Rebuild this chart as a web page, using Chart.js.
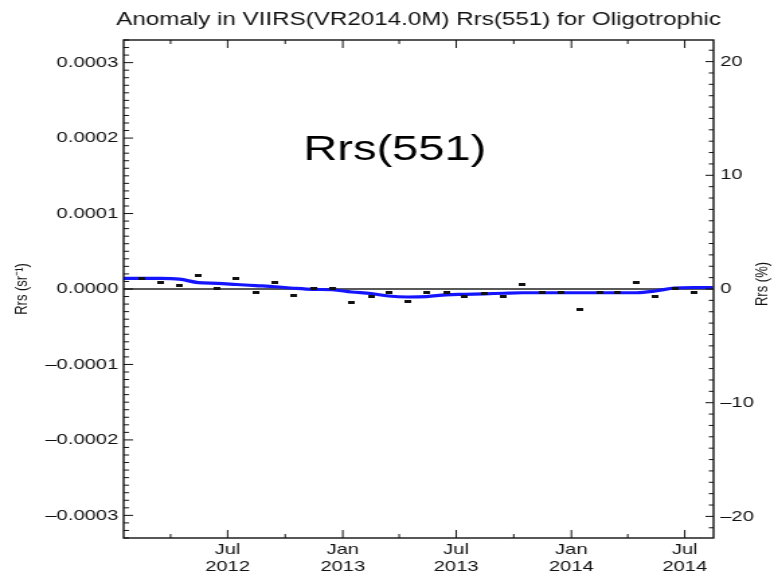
<!DOCTYPE html>
<html>
<head>
<meta charset="utf-8">
<script src="https://cdn.jsdelivr.net/npm/chart.js@4/dist/chart.umd.min.js"></script>
<style>
  html, body { margin: 0; padding: 0; background: #fff; overflow: hidden; }
</style>
</head>
<body>
<!-- the reference is a square plot stretched to 774 wide -->
<canvas id="chart" width="576" height="576" style="width:774px;height:576px;display:block"></canvas>
<script>
// monthly anomalies (sr^-1), black markers
const pointMonths = ['2012-02','2012-03','2012-04','2012-05','2012-06','2012-07','2012-08','2012-09','2012-10','2012-11','2012-12',
  '2013-01','2013-02','2013-03','2013-04','2013-05','2013-06','2013-07','2013-08','2013-09','2013-10','2013-11','2013-12',
  '2014-01','2014-02','2014-03','2014-04','2014-05','2014-06','2014-07'];
const pointValues = [1.33e-5, 0.8e-5, 0.53e-5, 1.73e-5, 0.13e-5, 1.33e-5, -0.4e-5, 0.8e-5, -0.8e-5, 0.13e-5, 0.13e-5,
  -1.73e-5, -1.06e-5, -0.53e-5, -1.6e-5, -0.53e-5, -0.4e-5, -0.93e-5, -0.66e-5, -0.93e-5, 0.66e-5, -0.4e-5, -0.4e-5,
  -2.66e-5, -0.4e-5, -0.4e-5, 0.8e-5, -1.06e-5, 0.13e-5, -0.53e-5];

// smoothed anomaly, blue line
const smoothMonths = ['2012-01','2012-02','2012-03','2012-04','2012-05','2012-06','2012-07','2012-08','2012-09','2012-10','2012-11','2012-12',
  '2013-01','2013-02','2013-03','2013-04','2013-05','2013-06','2013-07','2013-08','2013-09','2013-10','2013-11','2013-12',
  '2014-01','2014-02','2014-03','2014-04','2014-05','2014-06','2014-07','2014-08'];
const smoothValues = [1.4e-5, 1.4e-5, 1.4e-5, 1.3e-5, 0.85e-5, 0.75e-5, 0.6e-5, 0.45e-5, 0.3e-5, 0.1e-5, -0.05e-5, -0.1e-5,
  -0.4e-5, -0.6e-5, -0.93e-5, -1.06e-5, -1.0e-5, -0.77e-5, -0.7e-5, -0.64e-5, -0.56e-5, -0.5e-5, -0.5e-5, -0.5e-5,
  -0.5e-5, -0.5e-5, -0.5e-5, -0.5e-5, -0.27e-5, 0.13e-5, 0.2e-5, 0.2e-5];

const tickMonths = ['2012-04','2012-07','2012-10','2013-01','2013-04','2013-07','2013-10','2014-01','2014-04','2014-07'];
const monthNames = ['Jan','Feb','Mar','Apr','May','Jun','Jul','Aug','Sep','Oct','Nov','Dec'];

const xStart = '2012-01-17', xEnd = '2014-08-16';
const rrsMax = 0.00033, pctMax = 21.9;

const FONT = '"Liberation Sans", Arial, Helvetica, sans-serif';
const INK = '#111';

function midMonth(s) { const p = s.split('-'); return Date.UTC(+p[0], +p[1] - 1, 15); }
function monthStart(s) { const p = s.split('-'); return Date.UTC(+p[0], +p[1] - 1, 1); }
function day(s) { const p = s.split('-'); return Date.UTC(+p[0], +p[1] - 1, +p[2]); }

// little horizontal dash used as the marker
const dash = document.createElement('canvas');
dash.width = 5; dash.height = 3;
const dctx = dash.getContext('2d');
dctx.fillStyle = '#111';
dctx.fillRect(0, 0, 5, 3);

const frame = {
  id: 'frame',
  beforeDatasetsDraw(chart) {
    const {ctx, chartArea: a, scales} = chart;
    const y0 = scales.y.getPixelForValue(0);
    ctx.save();
    ctx.strokeStyle = '#222';
    ctx.lineWidth = 1.6;
    ctx.beginPath(); ctx.moveTo(a.left, y0); ctx.lineTo(a.right, y0); ctx.stroke();
    ctx.restore();
  },
  afterDatasetsDraw(chart) {
    const {ctx, chartArea: a, scales} = chart;
    ctx.save();
    ctx.strokeStyle = INK;
    ctx.lineWidth = 1.4;
    ctx.strokeRect(a.left, a.top, a.right - a.left, a.bottom - a.top);

    ctx.lineWidth = 1;
    ctx.beginPath();
    // left axis, minor every 1e-5
    for (let k = -33; k <= 33; k++) {
      const py = scales.y.getPixelForValue(k * 1e-5);
      const len = k % 10 === 0 ? 7 : 4;
      ctx.moveTo(a.left, py); ctx.lineTo(a.left + len, py);
    }
    // right axis, minor every 1 %
    for (let k = -21; k <= 21; k++) {
      const py = scales.y1.getPixelForValue(k);
      const len = k % 10 === 0 ? 6 : 3.5;
      ctx.moveTo(a.right, py); ctx.lineTo(a.right - len, py);
    }
    // bottom and top
    scales.x.ticks.forEach(t => {
      const px = scales.x.getPixelForValue(t.value);
      const m = new Date(t.value).getUTCMonth();
      const len = (m === 0 || m === 6) ? 8 : 4;
      ctx.moveTo(px, a.bottom); ctx.lineTo(px, a.bottom - len);
      ctx.moveTo(px, a.top); ctx.lineTo(px, a.top + len);
    });
    ctx.stroke();

    ctx.fillStyle = INK;
    ctx.textAlign = 'center';
    ctx.textBaseline = 'alphabetic';
    ctx.font = '18px ' + FONT;
    ctx.fillText('Anomaly in VIIRS(VR2014.0M) Rrs(551) for Oligotrophic', (a.left + a.right) / 2, 25);

    ctx.fillStyle = '#000';
    ctx.font = '35px ' + FONT;
    ctx.fillText('Rrs(551)', scales.x.getPixelForValue(day('2013-03-25')), scales.y.getPixelForValue(0.000171));

    ctx.fillStyle = INK;
    ctx.font = '13px ' + FONT;
    ctx.textBaseline = 'middle';
    ctx.save();
    ctx.translate(16, scales.y.getPixelForValue(0));
    ctx.rotate(-Math.PI / 2);
    ctx.fillText('Rrs (sr\u207B\u00B9)', 0, 0);
    ctx.restore();
    ctx.save();
    ctx.translate(567, scales.y.getPixelForValue(0) - 5);
    ctx.rotate(-Math.PI / 2);
    ctx.fillText('Rrs (%)', 0, 0);
    ctx.restore();
    ctx.restore();
  }
};

const minus = s => s.replace('-', '\u2013');

new Chart(document.getElementById('chart'), {
  type: 'scatter',
  data: {
    datasets: [{
      type: 'scatter',
      label: 'monthly',
      data: pointMonths.map((m, i) => ({x: midMonth(m), y: pointValues[i]})),
      pointStyle: dash,
      pointRadius: 3,
      order: 0
    }, {
      type: 'line',
      label: 'smoothed',
      data: smoothMonths.map((m, i) => ({x: midMonth(m), y: smoothValues[i]})),
      borderColor: '#1414ff',
      borderWidth: 3.2,
      pointRadius: 0,
      tension: 0.4,
      cubicInterpolationMode: 'monotone',
      clip: 0,
      order: 1
    }]
  },
  options: {
    responsive: false,
    animation: false,
    events: [],
    layout: { padding: { top: 40, left: 0, right: 0, bottom: 0 } },
    plugins: { legend: { display: false }, tooltip: { enabled: false }, title: { display: false } },
    scales: {
      x: {
        type: 'linear',
        min: day(xStart),
        max: day(xEnd),
        afterBuildTicks: s => { s.ticks = tickMonths.map(m => ({value: monthStart(m)})); },
        afterFit: s => { s.height = 38; },
        grid: { display: false, drawTicks: false },
        border: { display: false },
        ticks: {
          autoSkip: false, maxRotation: 0, padding: 3, color: INK,
          font: { family: FONT, size: 15, lineHeight: 1.15 },
          callback: v => {
            const d = new Date(v), m = d.getUTCMonth();
            return (m === 0 || m === 6) ? [monthNames[m], String(d.getUTCFullYear())] : '';
          }
        }
      },
      y: {
        position: 'left',
        min: -rrsMax, max: rrsMax,
        afterFit: s => { s.width = 92; },
        grid: { display: false, drawTicks: false },
        border: { display: false },
        ticks: {
          stepSize: 0.0001, includeBounds: false, padding: 4, color: INK,
          font: { family: FONT, size: 15 },
          callback: v => Math.abs(v) < 1e-9 ? '0.0000' : minus(v.toFixed(4))
        }
      },
      y1: {
        position: 'right',
        min: -pctMax, max: pctMax,
        afterFit: s => { s.width = 45; },
        grid: { display: false, drawTicks: false },
        border: { display: false },
        ticks: {
          stepSize: 10, includeBounds: false, padding: 5, color: INK,
          font: { family: FONT, size: 15 },
          callback: v => minus(String(Math.round(v)))
        }
      }
    }
  },
  plugins: [frame]
});
</script>
</body>
</html>
